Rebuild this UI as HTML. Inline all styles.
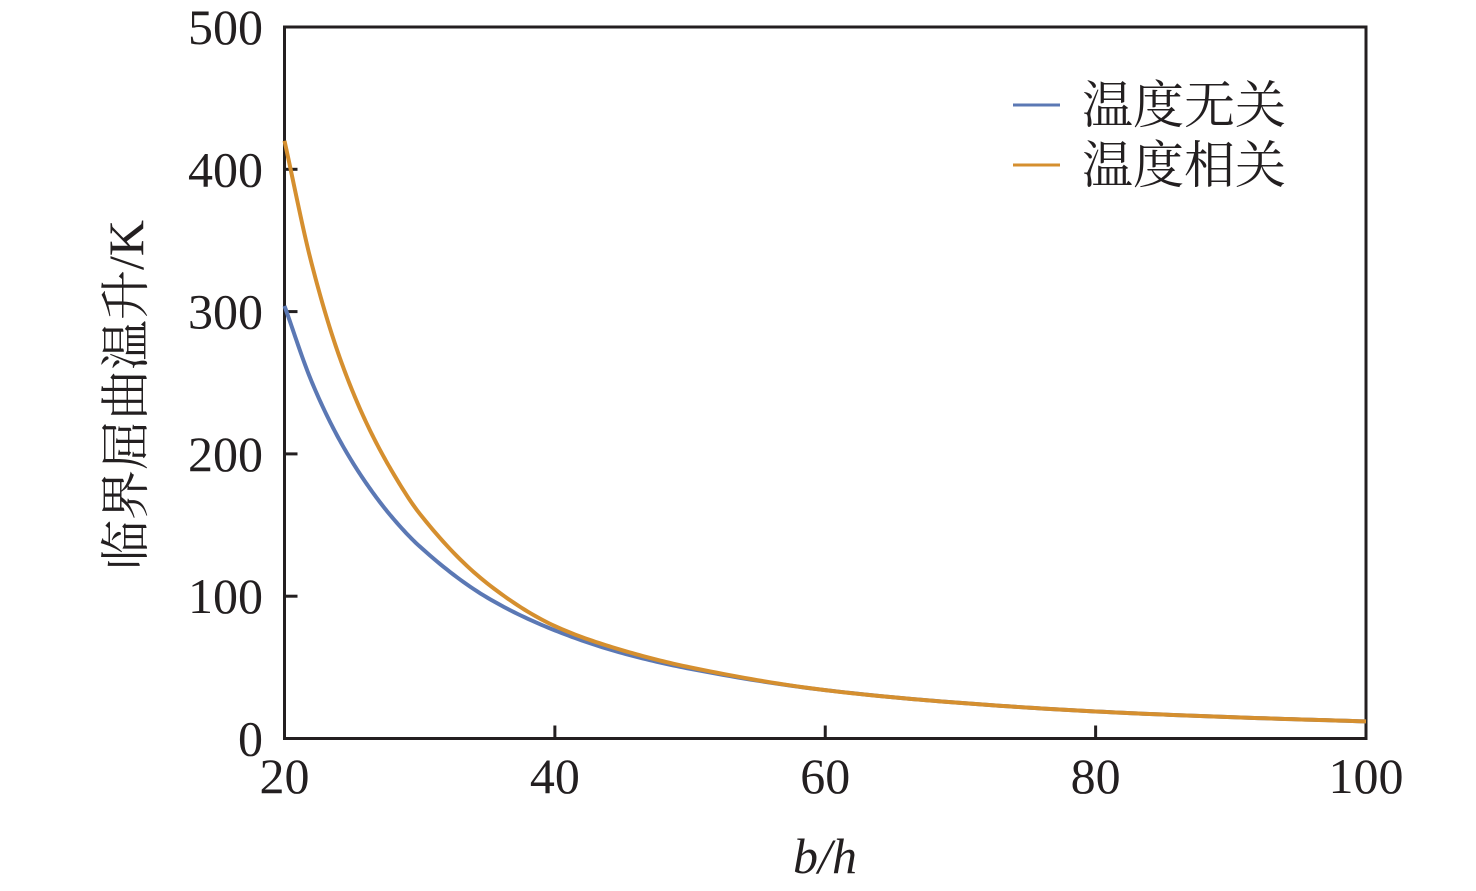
<!DOCTYPE html>
<html><head><meta charset="utf-8"><style>
html,body{margin:0;padding:0;background:#fff;width:1476px;height:891px;overflow:hidden}
svg text{font-family:"Liberation Serif","Noto Serif CJK SC",serif;fill:#231f20}
</style></head><body>
<svg id="chart" width="1476" height="891" viewBox="0 0 1476 891"></svg>
<script>
const xTicks=[20,40,60,80,100];
const yTicks=[0,100,200,300,400,500];
const xs=[20,22,24,26,28,30,35,40,45,50,60,70,80,90,100];
const blueVals=[304,251,211,180,155,135,99,76,60,49,34,25,19,15,12];
const orangeVals=[420,334,270,223,187,158,109,79,62,50,34,25,19,15,12];
const seriesNames=["温度无关","温度相关"];

const NS="http://www.w3.org/2000/svg";
const svg=document.getElementById('chart');
const X0=284.5,X1=1366,Y0=738.5,Y1=27;
const xs2=v=>X0+(v-20)/80*(X1-X0);
const ys=v=>Y0-v/500*(Y0-Y1);
function el(t,a,p){const e=document.createElementNS(NS,t);for(const k in a)e.setAttribute(k,a[k]);(p||svg).appendChild(e);return e;}

const frame=el('rect',{x:X0,y:Y1,width:X1-X0,height:Y0-Y1,fill:'none',stroke:'#231f20','stroke-width':3});



xTicks.forEach(v=>{
  const t=el('line',{x1:xs2(v),x2:xs2(v),y1:Y0,y2:Y0-13,stroke:'#231f20','stroke-width':3});
  
  
  const l=el('text',{x:xs2(v),y:793,'text-anchor':'middle','font-size':50});
  l.textContent=v;
  
  
});
yTicks.forEach(v=>{
  const t=el('line',{x1:X0,x2:X0+13,y1:ys(v),y2:ys(v),stroke:'#231f20','stroke-width':3});
  
  
  const l=el('text',{x:263,y:ys(v)+17,'text-anchor':'end','font-size':50});
  l.textContent=v;
  
  
});

// monotone cubic (Fritsch-Carlson) interpolation in data space
function monoPath(x,y){
  const n=x.length,d=[],m=[];
  for(let i=0;i<n-1;i++)d.push((y[i+1]-y[i])/(x[i+1]-x[i]));
  m[0]=d[0];m[n-1]=d[n-2];
  for(let i=1;i<n-1;i++){
    if(d[i-1]*d[i]<=0)m[i]=0;
    else{const h0=x[i]-x[i-1],h1=x[i+1]-x[i],w1=2*h1+h0,w2=h1+2*h0;m[i]=(w1+w2)/(w1/d[i-1]+w2/d[i]);}
  }
  let s='';
  for(let i=0;i<n-1;i++){
    const h=x[i+1]-x[i];
    for(let k=0;k<=20;k++){
      if(i>0&&k===0)continue;
      const t=k/20,t2=t*t,t3=t2*t;
      const v=(2*t3-3*t2+1)*y[i]+(t3-2*t2+t)*h*m[i]+(-2*t3+3*t2)*y[i+1]+(t3-t2)*h*m[i+1];
      const xv=x[i]+t*h;
      s+=(s?' L':'M')+xs2(xv).toFixed(2)+','+ys(v).toFixed(2);
    }
  }
  return s;
}
const bl=el('path',{d:monoPath(xs,blueVals),fill:'none',stroke:'#5b78b4','stroke-width':4});


const ol=el('path',{d:monoPath(xs,orangeVals),fill:'none',stroke:'#d58f2f','stroke-width':4});



[['#5b78b4',105],['#d58f2f',165]].forEach((c,i)=>{
  const ln=el('line',{x1:1013,x2:1060,y1:c[1],y2:c[1],stroke:c[0],'stroke-width':3});
  
  
  const tx=el('text',{x:1082,y:c[1]+18,'font-size':51});
  tx.textContent=seriesNames[i];
  
  
});

const yt=el('text',{x:0,y:0,'text-anchor':'middle','font-size':50,transform:'translate(143,395) rotate(-90)'});
yt.textContent='临界屈曲温升/K';


const xt=el('text',{x:825,y:873,'text-anchor':'middle','font-size':50,'font-style':'italic'});
xt.textContent='b/h';


</script>
</body></html>
